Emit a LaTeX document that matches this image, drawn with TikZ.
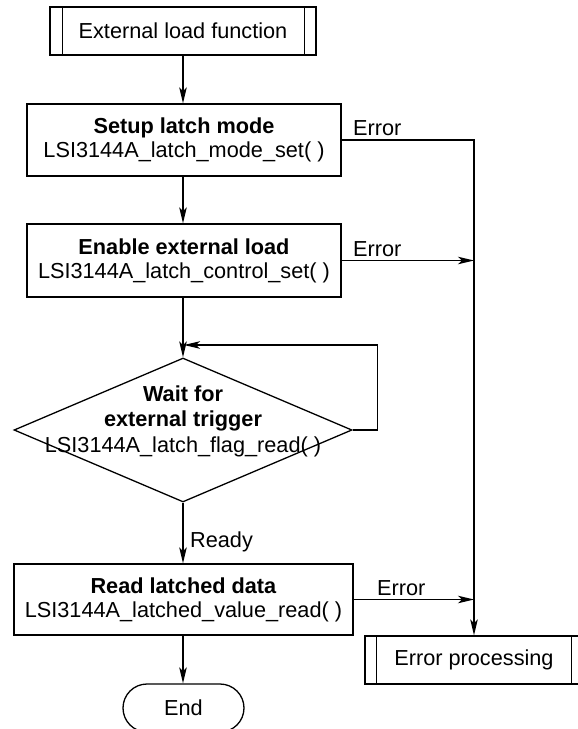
\documentclass[tikz,border=0pt]{standalone}
\usepackage{fontspec}
\setmainfont{Liberation Sans}
\usetikzlibrary{shapes.geometric,arrows.meta}
\begin{document}
\begin{tikzpicture}[x=1pt,y=-1pt,
  txt/.style={font=\fontsize{21.7}{24}\selectfont},
  line/.style={line width=1.3pt},
  arr/.style={line, -{Stealth[length=16pt,width=7.5pt,inset=4pt]}},
  box/.style={txt, draw, line width=1.3pt, align=center, inner sep=0pt},
  proc/.style={box, minimum width=314pt, minimum height=72pt},
  subr/.style={box, minimum height=48pt},
  decision/.style={diamond, draw, line width=1.3pt, inner sep=0pt, minimum width=338pt, minimum height=144pt},
  terminal/.style={box, rounded corners=24pt, minimum width=121pt, minimum height=48pt},
  lbl/.style={txt, anchor=base west, inner sep=0pt}
]
\useasboundingbox (0,0) rectangle (578,729);

% process boxes
\node[subr, minimum width=266pt] (start) at (183,31) {External load function};
\draw[line] ([xshift=13pt]start.north west) -- ([xshift=13pt]start.south west);
\draw[line] ([xshift=-12pt]start.north east) -- ([xshift=-12pt]start.south east);

\node[proc] (setup) at (184,140) {\textbf{Setup latch mode}\\LSI3144A\_latch\_mode\_set( )};
\node[proc, minimum height=73pt] (enable) at (184,260.5) {\textbf{Enable external load}\\LSI3144A\_latch\_control\_set( )};

\node[decision] (wait) at (183,430) {};
\node[txt, align=center, inner sep=0pt, font=\fontsize{21.7}{25.5}\selectfont] (waittext) at (183,421)
  {\textbf{Wait for}\\\textbf{external trigger}\\LSI3144A\_latch\_flag\_read( )};

\node[proc, minimum width=339pt, minimum height=71pt] (read) at (183.5,599.5) {\textbf{Read latched data}\\LSI3144A\_latched\_value\_read( )};

\node[terminal] (end) at (183.5,708) {End};

\node[subr, minimum width=218pt] (errp) at (474,660) {Error processing};
\draw[line] ([xshift=12pt]errp.north west) -- ([xshift=12pt]errp.south west);
\draw[line] ([xshift=-12pt]errp.north east) -- ([xshift=-12pt]errp.south east);

% main flow
\draw[arr] (start.south) -- (start.south |- setup.north);
\draw[arr] (start.south |- setup.south) -- (start.south |- enable.north);
\draw[arr] (start.south |- enable.south) -- (wait.north);
\draw[arr] (wait.south) -- (wait.south |- read.north);
\draw[arr] (wait.south |- read.south) -- (wait.south |- end.north);

% polling loop
\coordinate (loopin) at (184,345);
\draw[arr] (wait.east) -- ++(25,0) |- (loopin);

% error branches
\draw[arr] (setup.east) -- (errp.north |- setup.east) -- (errp.north);
\draw[arr] (enable.east) -- (errp.north |- enable.east);
\draw[arr] (read.east) -- (errp.north |- read.east);

% labels
\node[lbl] (e1) at (353,135) {Error};
\node[lbl] (e2) at (353,256) {Error};
\node[lbl] (e3) at (377,595) {Error};
\node[lbl] (ready) at (190,547) {Ready};
\end{tikzpicture}
\end{document}
